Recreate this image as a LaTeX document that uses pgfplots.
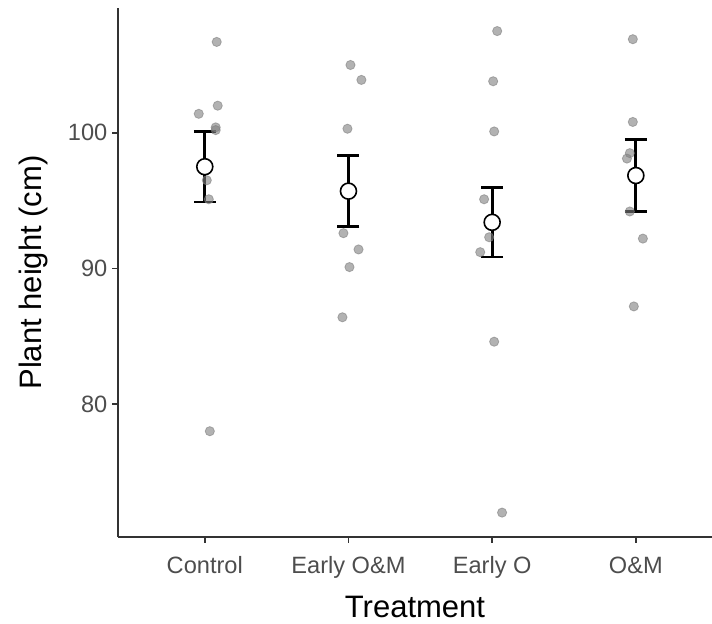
\documentclass[border=0pt]{standalone}
\usepackage{fontspec}
\setmainfont{Liberation Sans}
\usepackage{pgfplots}
\pgfplotsset{compat=1.18}
\definecolor{axisgray}{HTML}{333333}
\definecolor{ticktext}{HTML}{4D4D4D}
\definecolor{pointgray}{HTML}{7F7F7F}

\begin{document}
\begin{tikzpicture}
\path[use as bounding box] (-59pt,-43pt) rectangle (297pt,268.5pt);
\begin{axis}[
  scale only axis, width=297pt, height=264.5pt,
  xmin=0.396, xmax=4.53, ymin=70.2, ymax=109.2,
  axis lines=left, axis line style={-, axisgray, line width=0.8pt},
  xtick={1,2,3,4}, xticklabels={Control, Early O\&M, Early O, O\&M},
  ytick={80,90,100},
  tick style={axisgray, line width=0.8pt}, tick align=outside,
  major tick length=2.8pt,
  tick label style={font=\fontsize{11.8}{13}\selectfont, text=ticktext},
  /pgf/number format/assume math mode=true,
  xticklabel style={yshift=-3.5pt},
  yticklabel style={xshift=1pt},
  xlabel={Treatment}, ylabel={Plant height (cm)},
  label style={font=\fontsize{15.5}{17}\selectfont},
  xlabel style={yshift=-1.8pt},
  ylabel style={yshift=3pt},
  clip=false,
]
% raw observations (jittered)
\addplot[only marks, mark=*, mark size=2.3pt,
  mark options={fill=pointgray, draw=pointgray, fill opacity=0.6, draw opacity=0.6}]
  coordinates {
  (1.083,106.7)(1.090,102.0)(0.958,101.4)(1.076,100.4)(1.076,100.2)(1.014,96.5)(1.028,95.1)(1.035,78.0)
  (2.014,105.0)(2.090,103.9)(1.993,100.3)(1.965,92.6)(2.070,91.4)(2.007,90.1)(1.958,86.4)
  (3.035,107.5)(3.007,103.8)(3.014,100.1)(2.944,95.1)(2.979,92.3)(2.917,91.2)(3.014,84.6)(3.069,72.0)
  (3.979,106.9)(3.979,100.8)(3.958,98.5)(3.938,98.1)(3.958,94.2)(4.049,92.2)(3.986,87.2)
};
% standard errors
\addplot[draw=none, mark=none,
  error bars/.cd, y dir=both, y explicit,
  error bar style={black, line width=1.4pt},
  error mark options={black, line width=1.4pt, mark size=5.5pt, rotate=90}]
  coordinates {
  (1,97.5) +- (0,2.6)
  (2,95.7) +- (0,2.6)
  (3,93.4) +- (0,2.55)
  (4,96.85) +- (0,2.65)
};
% means
\addplot[only marks, mark=*, mark size=4pt,
  mark options={fill=white, draw=black, line width=0.8pt}]
  coordinates {(1,97.5)(2,95.7)(3,93.4)(4,96.85)};
\end{axis}
\end{tikzpicture}
\end{document}
